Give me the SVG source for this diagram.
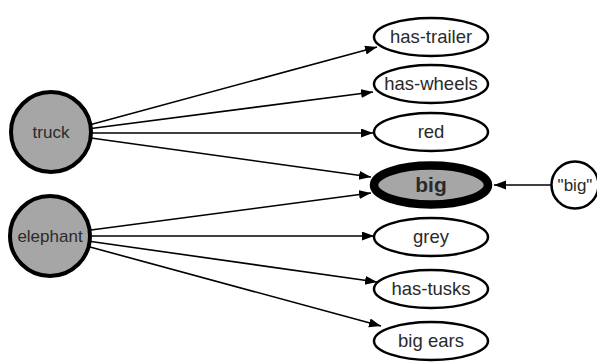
<svg xmlns="http://www.w3.org/2000/svg" width="597" height="362" viewBox="0 0 597 362">
  <defs>
    <marker id="arrow" markerUnits="userSpaceOnUse" markerWidth="13" markerHeight="10" refX="12" refY="4.5" orient="auto">
      <path d="M0,0 L12,4.5 L0,9 z" fill="#000"/>
    </marker>
    <style>
      .concept { fill: #a6a6a6; stroke: #000; stroke-width: 4; }
      .feature { fill: #fff; stroke: #000; stroke-width: 2.5; }
      .active { fill: #a6a6a6; stroke: #000; stroke-width: 8.5; }
      .input { fill: #fff; stroke: #000; stroke-width: 2.5; }
      .label { font-family: "Liberation Sans", Arial, sans-serif; fill: #2a2a2a; text-anchor: middle; }
      .big { font-size: 17px; }
      .feat { font-size: 18.5px; }
      .bold { font-size: 21px; font-weight: bold; }
      .edge { stroke: #000; stroke-width: 1.6; fill: none; marker-end: url(#arrow); }
    </style>
  </defs>

  <!-- connectors -->
  <g id="edges">
    <line class="edge" x1="91" y1="124.5" x2="377" y2="47"/>
    <line class="edge" x1="91" y1="128.5" x2="373" y2="92"/>
    <line class="edge" x1="92" y1="133" x2="373" y2="133"/>
    <line class="edge" x1="91" y1="138" x2="371" y2="177"/>
    <line class="edge" x1="91" y1="230" x2="371" y2="193"/>
    <line class="edge" x1="92" y1="236" x2="374" y2="236"/>
    <line class="edge" x1="91" y1="241.5" x2="377" y2="282"/>
    <line class="edge" x1="90" y1="247" x2="381" y2="326"/>
    <line class="edge" x1="552" y1="185" x2="494" y2="185"/>
  </g>

  <g id="truck">
    <circle class="concept" cx="51" cy="132" r="40"/>
    <text class="label big" x="51" y="138">truck</text>
  </g>
  <g id="elephant">
    <circle class="concept" cx="50" cy="236" r="40"/>
    <text class="label big" x="50" y="242">elephant</text>
  </g>

  <g id="has-trailer">
    <ellipse class="feature" cx="431" cy="37" rx="57" ry="19"/>
    <text class="label feat" x="431" y="43">has-trailer</text>
  </g>
  <g id="has-wheels">
    <ellipse class="feature" cx="431" cy="84" rx="57" ry="19"/>
    <text class="label feat" x="431" y="90">has-wheels</text>
  </g>
  <g id="red">
    <ellipse class="feature" cx="431" cy="132" rx="57" ry="19"/>
    <text class="label feat" x="431" y="138">red</text>
  </g>
  <g id="big">
    <ellipse class="active" cx="431" cy="185" rx="57" ry="19.5"/>
    <text class="label bold" x="431" y="192">big</text>
  </g>
  <g id="grey">
    <ellipse class="feature" cx="431" cy="237" rx="57" ry="19"/>
    <text class="label feat" x="431" y="243">grey</text>
  </g>
  <g id="has-tusks">
    <ellipse class="feature" cx="431" cy="289" rx="57" ry="19"/>
    <text class="label feat" x="431" y="295">has-tusks</text>
  </g>
  <g id="big-ears">
    <ellipse class="feature" cx="431" cy="341" rx="57" ry="19"/>
    <text class="label feat" x="431" y="347">big ears</text>
  </g>

  <g id="big-input">
    <circle class="input" cx="575" cy="185" r="23.5"/>
    <text class="label big" x="575" y="191">"big"</text>
  </g>
</svg>
